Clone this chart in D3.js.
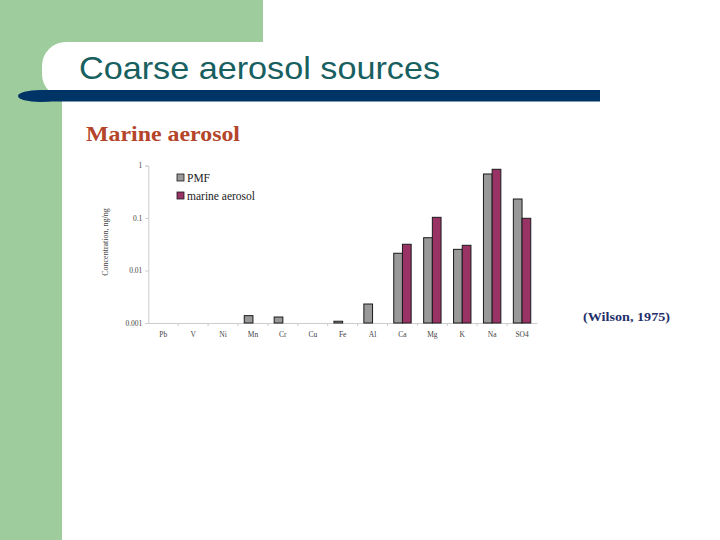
<!DOCTYPE html>
<html>
<head>
<meta charset="utf-8">
<script src="https://cdn.jsdelivr.net/npm/d3@7"></script>
<style>
  body { margin: 0; background: #fff; }
  svg { display: block; }
</style>
</head>
<body>
<div id="slide"></div>
<script>
// chart data
const elements = ["Pb", "V", "Ni", "Mn", "Cr", "Cu", "Fe", "Al", "Ca", "Mg", "K", "Na", "SO4"];
const pmf    = [null, null, null, 0.00138, 0.0013, null, 0.00108, 0.0023, 0.0213, 0.0421, 0.0253, 0.689, 0.230];
const marine = [null, null, null, null, null, null, null, null, 0.0316, 0.103, 0.0302, 0.847, 0.0987];
const yTicks = [1, 0.1, 0.01, 0.001];
const yTickLabels = ["1", "0.1", "0.01", "0.001"];
const seriesNames = ["PMF", "marine aerosol"];
const seriesColors = ["#999999", "#993366"];

var W = 720, H = 540;
var svg = d3.select("#slide").append("svg")
  .attr("width", W).attr("height", H);

// slide background
svg.append("rect").attr("width", W).attr("height", H).attr("fill", "#fff");
svg.append("rect").attr("x", 0).attr("y", 0).attr("width", 62).attr("height", H).attr("fill", "#9ecc9c");
svg.append("rect").attr("x", 0).attr("y", 0).attr("width", 263).attr("height", 90).attr("fill", "#9ecc9c");
// white title box with round left end
svg.append("rect").attr("x", 42).attr("y", 42).attr("width", 300).attr("height", 56)
  .attr("rx", 24).attr("fill", "#fff");
svg.append("rect").attr("x", 200).attr("y", 42).attr("width", 420).attr("height", 56).attr("fill", "#fff");

// dark rule under title
svg.append("ellipse").attr("cx", 40).attr("cy", 96).attr("rx", 22).attr("ry", 6).attr("fill", "#003366");
svg.append("rect").attr("x", 40).attr("y", 90).attr("width", 560).attr("height", 11.5).attr("fill", "#003366");

svg.append("text")
  .attr("x", 79).attr("y", 79)
  .attr("textLength", 361).attr("lengthAdjust", "spacingAndGlyphs")
  .style("font-family", "'Liberation Sans', Arial, sans-serif")
  .style("font-size", "30.5px")
  .attr("fill", "#17605f")
  .text("Coarse aerosol sources");

svg.append("text")
  .attr("x", 86).attr("y", 140.5)
  .attr("textLength", 154).attr("lengthAdjust", "spacingAndGlyphs")
  .style("font-family", "'Liberation Serif', 'Times New Roman', serif")
  .style("font-size", "22px")
  .style("font-weight", "bold")
  .attr("fill", "#b4442a")
  .text("Marine aerosol");

// chart
var plotLeft = 148.3, plotRight = 537, plotTop = 165.5, plotBottom = 323;

var x = d3.scaleBand().domain(elements).range([plotLeft, plotRight]);
var y = d3.scaleLog().domain([0.001, 1]).range([plotBottom, plotTop]);
var sub = d3.scaleBand().domain(seriesNames).range([0, 17.4]);

var serif = "'Liberation Serif', 'Times New Roman', serif";

// y axis
var yAxis = svg.append("g")
  .attr("transform", "translate(" + plotLeft + ",0)")
  .call(d3.axisLeft(y).tickValues(yTicks).tickFormat((d, i) => yTickLabels[i]).tickSize(3).tickPadding(3));
yAxis.select(".domain").attr("stroke", "#cccccc");
yAxis.selectAll(".tick line").attr("stroke", "#cccccc");
yAxis.selectAll(".tick text")
  .style("font-family", serif).style("font-size", "7.5px").attr("fill", "#444");

// x axis
var xAxis = svg.append("g")
  .attr("transform", "translate(0," + plotBottom + ")")
  .call(d3.axisBottom(x).tickSize(0).tickPadding(9));
xAxis.select(".domain").attr("stroke", "#cccccc");
xAxis.selectAll(".tick text")
  .style("font-family", serif).style("font-size", "7.5px").attr("fill", "#444");
// tick marks between categories
xAxis.selectAll(".sep")
  .data(elements.slice(1))
  .enter().append("line")
  .attr("x1", d => x(d)).attr("x2", d => x(d))
  .attr("y1", 0).attr("y2", 3)
  .attr("stroke", "#cccccc");

svg.append("text")
  .attr("transform", "translate(108,242) rotate(-90)")
  .attr("text-anchor", "middle")
  .style("font-family", serif).style("font-size", "8px")
  .attr("fill", "#444")
  .text("Concentration, ng/ng");

// bars
var series = [pmf, marine];
series.forEach(function(vals, s) {
  svg.append("g").selectAll("rect")
    .data(elements.map((e, i) => ({el: e, v: vals[i]})).filter(d => d.v != null))
    .enter().append("rect")
    .attr("x", d => x(d.el) + x.bandwidth() / 2 - 8.7 + sub(seriesNames[s]))
    .attr("y", d => y(d.v))
    .attr("width", sub.bandwidth())
    .attr("height", d => y(0.001) - y(d.v))
    .attr("fill", seriesColors[s])
    .attr("stroke", "#1a1a1a")
    .attr("stroke-width", 1);
});

// legend
var legend = svg.append("g");
seriesNames.forEach(function(name, i) {
  legend.append("rect")
    .attr("x", 177).attr("y", 174 + i * 18)
    .attr("width", 7).attr("height", 7)
    .attr("fill", seriesColors[i])
    .attr("stroke", "#1a1a1a").attr("stroke-width", 0.8);
  legend.append("text")
    .attr("x", 187).attr("y", 181.5 + i * 18)
    .style("font-family", serif).style("font-size", "11.5px")
    .attr("fill", "#222")
    .text(name);
});

svg.append("text")
  .attr("x", 583).attr("y", 321)
  .attr("textLength", 87).attr("lengthAdjust", "spacingAndGlyphs")
  .style("font-family", serif).style("font-size", "13px")
  .style("font-weight", "bold")
  .attr("fill", "#1f2f6b")
  .text("(Wilson, 1975)");
</script>
</body>
</html>
